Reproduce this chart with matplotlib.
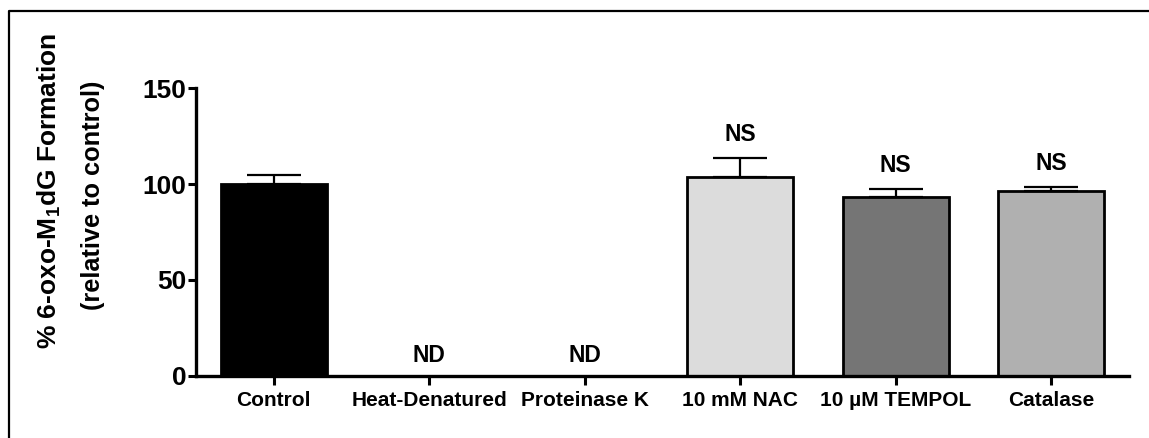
import matplotlib
matplotlib.use("Agg")
import matplotlib.pyplot as plt
from matplotlib.lines import Line2D
import numpy as np

plt.rcParams['font.family'] = ['Liberation Sans', 'DejaVu Sans']
plt.rcParams['font.weight'] = 'bold'
plt.rcParams['mathtext.fontset'] = 'custom'
plt.rcParams['mathtext.rm'] = 'Liberation Sans:bold'
plt.rcParams['mathtext.default'] = 'rm'

# % 6-oxo-M1dG formation relative to control (mean, upper SEM)
groups = ["Control", "Heat-Denatured", "Proteinase K", "10 mM NAC", "10 µM TEMPOL", "Catalase"]
means = [100.0, 0.0, 0.0, 103.9, 93.4, 96.5]
sems = [4.6, 0.0, 0.0, 9.7, 4.0, 2.1]
marks = ["", "ND", "ND", "NS", "NS", "NS"]
colors = ["#000000", "#ffffff", "#ffffff", "#dcdcdc", "#757575", "#b0b0b0"]

fig = plt.figure(figsize=(11.49, 4.38), dpi=100)
ax = fig.add_axes([0.1706, 0.1416, 0.812, 0.6574])

x = np.arange(len(groups))
ax.bar(x, means, width=0.68, color=colors, edgecolor="black", linewidth=2.0, zorder=2)

# upper-only error bars, skipping the not-detected groups
for xi, m, e in zip(x, means, sems):
    if e > 0:
        ax.errorbar(xi, m, yerr=[[0], [e]], fmt="none", ecolor="black",
                    elinewidth=1.6, capsize=19.5, capthick=1.6, zorder=3)

for xi, m, e, lab in zip(x, means, sems, marks):
    if not lab:
        continue
    off = 10 if lab == "ND" else 12
    ax.annotate(lab, (xi, m + e), xytext=(0, off), textcoords="offset points",
                ha="center", va="baseline", fontsize=16.5, fontweight="bold")

ax.set_xlim(-0.5, 5.5)
ax.set_ylim(0, 150)
ax.set_yticks([0, 50, 100, 150])
ax.set_xticks(x)
ax.set_xticklabels(groups, fontsize=15, fontweight="bold")
ax.tick_params(axis="y", labelsize=19, length=6, width=2.2, pad=1)
ax.tick_params(axis="x", length=6.5, width=2.2, pad=4)
for lbl in ax.get_yticklabels():
    lbl.set_fontweight("bold")

for side in ["top", "right"]:
    ax.spines[side].set_visible(False)
for side in ["left", "bottom"]:
    ax.spines[side].set_linewidth(2.4)

# two-line y label, drawn as separate lines for wider spacing
fig.text(49 / 1149, 1 - 191 / 438, "% 6-oxo-M$_{1}$dG Formation",
         rotation=90, ha="center", va="center", fontsize=19, fontweight="bold")
fig.text(93 / 1149, 1 - 195 / 438, "(relative to control)",
         rotation=90, ha="center", va="center", fontsize=18.3, fontweight="bold")

# figure border (left and top edges)
fig.add_artist(Line2D([9 / 1149, 9 / 1149, 1.0], [0.0, 1 - 11 / 438, 1 - 11 / 438],
                      transform=fig.transFigure, color="black", linewidth=1.6))

fig.savefig("out.png", dpi=100)
